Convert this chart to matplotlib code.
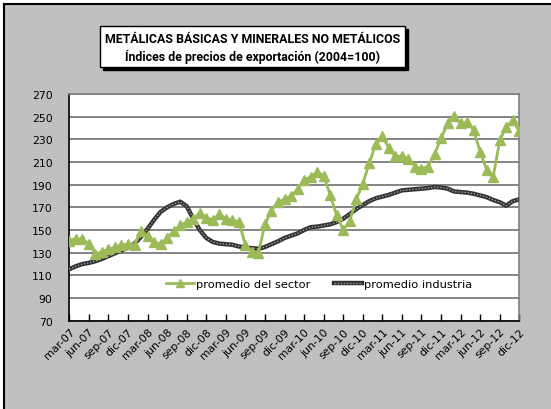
import matplotlib
matplotlib.use("Agg")
import matplotlib.pyplot as plt
from matplotlib.patches import Rectangle
from matplotlib.lines import Line2D

meses = ["ene", "feb", "mar", "abr", "may", "jun", "jul", "ago", "sep", "oct", "nov", "dic"]

# mar-07 .. dic-12, monthly
fechas = []
for anio in range(7, 13):
    for m in meses:
        fechas.append(f"{m}-{anio:02d}")
fechas = fechas[2:]

sector = [140.5, 142.5, 142, 138, 129, 130.5, 133, 135, 137, 137.5,
          137, 149, 145, 139, 138, 143, 149, 154, 157, 160,
          165, 161, 159, 164, 160, 159, 157, 137, 131, 130,
          155, 167, 175, 177, 180, 186, 194, 197, 201, 198,
          181, 163, 150, 158, 177, 191, 209, 226, 233, 222,
          215, 215, 213, 206, 204, 206, 217, 231, 244, 251,
          244, 245, 238, 219, 203, 197, 229, 241, 247, 237]

industria = [115.5, 118, 120, 121, 122.5, 124.5, 127, 129.5, 132, 134.5,
             138, 144, 151, 159, 166, 170, 173, 175, 171, 160,
             150, 143, 139.5, 138, 137.5, 137, 135.5, 134.5, 134, 133.5,
             135, 137.5, 140, 143, 145, 147, 150, 152.5, 153, 154,
             155, 157, 160, 164, 168.5, 172, 175.5, 178, 179.5, 181,
             183, 185, 185.5, 186, 186.5, 187, 188, 187.5, 186.5, 184,
             183.5, 183, 182, 180.5, 179, 176.5, 174.5, 171.5, 175.5, 177]

verde = "#9BBB59"
oscuro = "#333333"

fig = plt.figure(figsize=(5.51, 4.10), dpi=100, facecolor="white")

# gray chart area with black frame (cropped on right/bottom)
fig.patches.append(Rectangle((4 / 551, -0.05), 1.1, 1 - 5 / 410 + 0.05,
                             transform=fig.transFigure, facecolor="#C0C0C0",
                             edgecolor="black", lw=1.5, zorder=-5))

ax = fig.add_axes([69.3 / 551, 1 - 321.7 / 410, 450 / 551, 226.7 / 410])
ax.set_facecolor("white")

x = list(range(len(fechas)))
ax.plot(x, industria, color=oscuro, lw=3.2, solid_capstyle="round", zorder=3)
ax.plot(x, industria, color="#b0b0b0", lw=0.9, linestyle=(0, (1, 1.5)), zorder=4)
ax.plot(x, sector, color=verde, lw=2, marker="^", markersize=6.5,
        markeredgecolor=verde, zorder=5)

ax.set_xlim(0, len(fechas) - 1)
ax.set_ylim(70, 270)
ax.set_yticks(range(70, 271, 20))
ax.yaxis.grid(True, color="#707070", lw=1.2)
ax.set_axisbelow(True)

ax.set_xticks(x[::3])
ax.set_xticklabels(fechas[::3], rotation=45, ha="right", rotation_mode="anchor")
ax.tick_params(axis="x", direction="in", length=5, width=1, labelsize=7.8, pad=4)
ax.tick_params(axis="y", length=0, labelsize=7.8, pad=12)

for s in ["top", "right"]:
    ax.spines[s].set_color("#808080")
    ax.spines[s].set_linewidth(1.2)
for s in ["left", "bottom"]:
    ax.spines[s].set_color("black")
    ax.spines[s].set_linewidth(1.2)

h1 = Line2D([], [], color=verde, lw=2, marker="^", markersize=6)
h2a = Line2D([], [], color=oscuro, lw=3.2)
h2b = Line2D([], [], color="#b0b0b0", lw=0.9, linestyle=(0, (1, 1.5)))
ax.legend([h1, (h2a, h2b)], ["promedio del sector", "promedio industria"],
          loc="center", bbox_to_anchor=(0.555, 0.162), ncol=2, frameon=False,
          fontsize=8.2, handlelength=2.5, handletextpad=0.2, columnspacing=2.0)

# title box with drop shadow
x0, x1 = 100 / 551, 405 / 551
y0, y1 = 1 - 68 / 410, 1 - 27 / 410
fig.patches.append(Rectangle((x0 + 3 / 551, y0 - 3 / 410), x1 - x0, y1 - y0,
                             transform=fig.transFigure, facecolor="black",
                             edgecolor="black", zorder=1))
fig.patches.append(Rectangle((x0, y0), x1 - x0, y1 - y0,
                             transform=fig.transFigure, facecolor="white",
                             edgecolor="black", lw=1, zorder=2))
fig.text((x0 + x1) / 2, y0 + (y1 - y0) * 0.70,
         "METÁLICAS BÁSICAS Y MINERALES NO METÁLICOS",
         ha="center", va="center", fontsize=8.9, fontweight="bold",
         family="Roboto", zorder=3)
fig.text((x0 + x1) / 2, y0 + (y1 - y0) * 0.28,
         "Índices de precios de exportación (2004=100)",
         ha="center", va="center", fontsize=8.9, fontweight="bold",
         family="Roboto", zorder=3)

fig.savefig("out.png", dpi=100, facecolor=fig.get_facecolor())
